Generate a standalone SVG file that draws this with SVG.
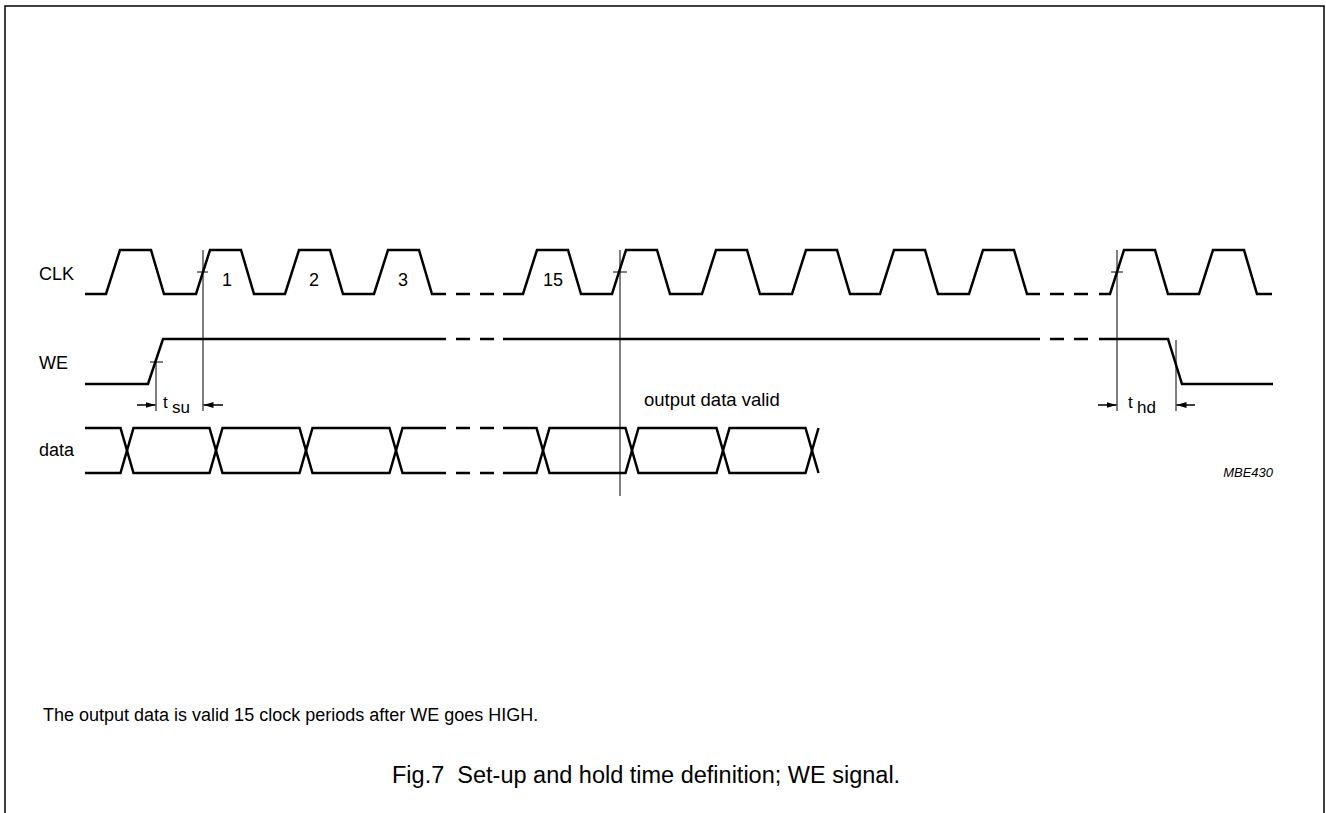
<svg xmlns="http://www.w3.org/2000/svg" width="1326" height="813" viewBox="0 0 1326 813">
<style>
text{font-family:"Liberation Sans",Arial,sans-serif;fill:#000}
.w{fill:none;stroke:#000;stroke-width:2.5;stroke-linejoin:miter}
.d{fill:none;stroke:#000;stroke-width:2.5;stroke-dasharray:14 10}
.t{fill:none;stroke:#000;stroke-width:1}
.frame{fill:none;stroke:#000;stroke-width:1.5}
.lbl{font-size:18px}
.arr{fill:none;stroke:#000;stroke-width:1.5}
</style>
<defs>
<marker id="ah" markerWidth="11" markerHeight="8" refX="10" refY="4" orient="auto" markerUnits="userSpaceOnUse">
<path d="M0,1 L10,4 L0,7 Z" fill="#000"/>
</marker>
</defs>
<rect width="1326" height="813" fill="#fff"/>
<path class="frame" d="M5,813 V6 H1324 V813"/>

<g id="labels">
<text class="lbl" x="39" y="280">CLK</text>
<text class="lbl" x="39" y="369">WE</text>
<text class="lbl" x="39" y="456">data</text>
</g>

<g id="clk">
<path class="w" d="M85,294 H106 L120,250 H151 L164,294 H196 L210,250 H241 L254,294 H285 L299,250 H330 L343,294 H374 L388,250 H419 L432,294 H446"/>
<path class="d" d="M456,294 H494"/>
<path class="w" d="M503,294 H523 L537,250 H568 L581,294 H612 L626,250 H657 L670,294 H702 L716,250 H747 L760,294 H792 L806,250 H837 L850,294 H880 L894,250 H925 L938,294 H969 L983,250 H1014 L1027,294 H1040"/>
<path class="d" d="M1050,294 H1089"/>
<path class="w" d="M1099,294 H1110 L1124,250 H1155 L1168,294 H1199 L1213,250 H1244 L1257,294 H1272"/>
<text class="lbl" x="222" y="286">1</text>
<text class="lbl" x="309" y="286">2</text>
<text class="lbl" x="398" y="286">3</text>
<text class="lbl" x="543" y="286">15</text>
</g>

<g id="we">
<path class="w" d="M85,384 H148 L163,339 H446"/>
<path class="d" d="M456,339 H494"/>
<path class="w" d="M503,339 H1040"/>
<path class="d" d="M1050,339 H1089"/>
<path class="w" d="M1099,339 H1168 L1182,384 H1273"/>
</g>

<g id="data">
<path class="w" d="M85,428 H120.5 L133.5,473 H209.5 L222.5,428 H299.5 L312.5,473 H389.5 L402.5,428 H446"/>
<path class="w" d="M85,473 H120.5 L133.5,428 H209.5 L222.5,473 H299.5 L312.5,428 H389.5 L402.5,473 H446"/>
<path class="d" d="M456,428 H494 M456,473 H494"/>
<path class="w" d="M503,428 H536.5 L549.5,473 H625.5 L638.5,428 H716.5 L729.5,473 H805.5 L818.5,428"/>
<path class="w" d="M503,473 H536.5 L549.5,428 H625.5 L638.5,473 H716.5 L729.5,428 H805.5 L818.5,473"/>
</g>

<g id="timing">
<line class="t" x1="203" y1="250" x2="203" y2="411"/>
<line class="t" x1="197" y1="272" x2="208" y2="272"/>
<line class="t" x1="156" y1="358" x2="156" y2="411"/>
<line class="t" x1="150" y1="362" x2="163" y2="362"/>
<line class="t" x1="620" y1="250" x2="620" y2="496"/>
<line class="t" x1="613" y1="272" x2="627" y2="272"/>
<line class="t" x1="1117" y1="250" x2="1117" y2="411"/>
<line class="t" x1="1111" y1="272" x2="1123" y2="272"/>
<line class="t" x1="1176" y1="340" x2="1176" y2="411"/>
<line class="arr" x1="137" y1="405" x2="155.5" y2="405" marker-end="url(#ah)"/>
<line class="arr" x1="223" y1="405" x2="203.5" y2="405" marker-end="url(#ah)"/>
<line class="arr" x1="1098" y1="405" x2="1116.5" y2="405" marker-end="url(#ah)"/>
<line class="arr" x1="1195" y1="405" x2="1176.5" y2="405" marker-end="url(#ah)"/>
<text class="lbl" x="163" y="408" style="font-size:17px">t<tspan x="172" dy="5">su</tspan></text>
<text class="lbl" x="1128" y="408" style="font-size:17px">t<tspan x="1137" dy="5">hd</tspan></text>
<text x="644" y="406" style="font-size:18.5px">output data valid</text>
</g>

<text x="1273" y="477" text-anchor="end" style="font-size:13px;font-style:italic">MBE430</text>
<text x="43" y="721" style="font-size:18px">The output data is valid 15 clock periods after WE goes HIGH.</text>
<text x="392" y="783" xml:space="preserve" style="font-size:23.5px;white-space:pre">Fig.7  Set-up and hold time definition; WE signal.</text>
</svg>
